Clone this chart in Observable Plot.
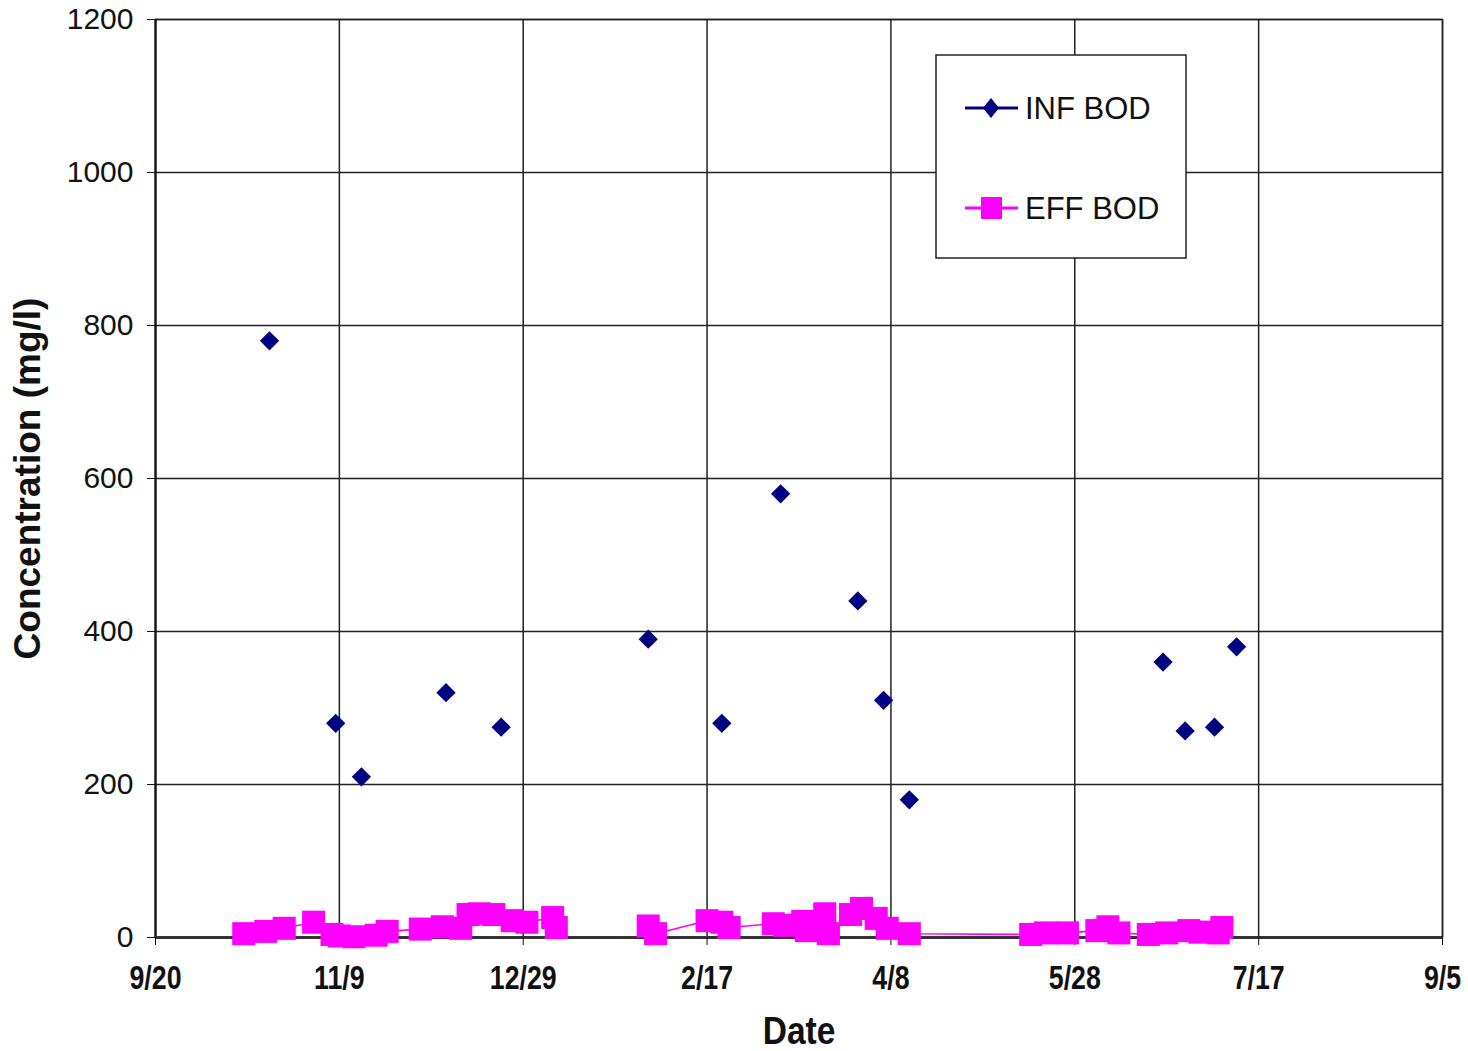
<!DOCTYPE html>
<html><head><meta charset="utf-8">
<script src="https://cdn.jsdelivr.net/npm/d3@7"></script>
<script src="https://cdn.jsdelivr.net/npm/@observablehq/plot@0.6"></script>
<style>
body{margin:0;background:#fff;}
#wrap{position:relative;width:1468px;height:1051px;}
#legend{position:absolute;left:0;top:0;}
</style></head><body>
<div id="wrap"></div>
<script>
// INF BOD (influent) samples
const infDates = ["2004-10-21","2004-11-08","2004-11-15","2004-12-08","2004-12-23","2005-02-01","2005-02-21","2005-03-09","2005-03-30","2005-04-06","2005-04-13","2005-06-21","2005-06-27","2005-07-05","2005-07-11"];
const infValues = [780,280,210,320,275,390,280,580,440,310,180,360,270,275,380];

// EFF BOD (effluent) samples; null = missing (breaks the line)
const effDates = ["2004-10-14","2004-10-20","2004-10-25","2004-11-02","2004-11-07","2004-11-09","2004-11-13","2004-11-19","2004-11-22","2004-12-01","2004-12-07","2004-12-12","2004-12-14","2004-12-17","2004-12-21","2004-12-26","2004-12-30","2005-01-06","2005-01-07","2005-01-20","2005-02-01","2005-02-03","2005-02-17","2005-02-21","2005-02-23","2005-03-07","2005-03-10","2005-03-15","2005-03-16","2005-03-21","2005-03-22","2005-03-28","2005-03-31","2005-04-04","2005-04-07","2005-04-13","2005-05-16","2005-05-20","2005-05-26","2005-06-03","2005-06-06","2005-06-09","2005-06-17","2005-06-22","2005-06-28","2005-07-01","2005-07-06","2005-07-07"];
const effValues = [5,8,12,20,4,2,1,3,8,11,14,12,30,31,30,22,20,26,13,null,15,5,22,20,13,18,16,21,9,31,5,30,38,25,12,5,4,6,6,9,14,6,4,6,9,7,6,13];

const xTickDates = ["2004-09-20","2004-11-09","2004-12-29","2005-02-17","2005-04-08","2005-05-28","2005-07-17","2005-09-05"];
const yTicks = [0,200,400,600,800,1000,1200];

const seriesNames = ["INF BOD","EFF BOD"];
const infColor = "#000080";
const effColor = "#ff00ff";

const inf = infDates.map((d,i)=>({date:new Date(d), value:infValues[i]}));
const eff = effDates.map((d,i)=>({date:new Date(d), value:effValues[i]}));
const xTicks = xTickDates.map(d=>new Date(d));

const sans = "'Liberation Sans',Arial,sans-serif";

const chart = Plot.plot({
  width:1468, height:1051,
  marginLeft:155, marginRight:26, marginTop:19, marginBottom:114,
  style:{fontFamily:sans, background:"#fff", color:"#111"},
  x:{type:"utc", domain:[xTicks[0], xTicks[xTicks.length-1]]},
  y:{domain:[0,1200]},
  marks:[
    Plot.gridX(xTicks, {stroke:"#222", strokeOpacity:1, strokeWidth:1.5}),
    Plot.gridY(yTicks, {stroke:"#222", strokeOpacity:1, strokeWidth:1.5}),
    Plot.frame({stroke:"#222", strokeWidth:1.5}),
    Plot.ruleX([xTicks[0]], {stroke:"#111", strokeWidth:2}),
    Plot.ruleY([0], {stroke:"#333", strokeWidth:3}),
    Plot.axisY(yTicks, {tickSize:8, tickPadding:14, fontSize:30, tickFormat:d=>String(d), label:null, stroke:"#111"}),
    Plot.axisY({ticks:[], tickSize:0, label:"Concentration (mg/l)", labelAnchor:"center", labelArrow:"none", labelOffset:142, fontSize:37, fontWeight:"bold"}),
    Plot.axisX(xTicks, {tickSize:8, tickPadding:20, tickFormat:d3.utcFormat("%-m/%-d"), fontSize:33, fontWeight:"bold", label:"Date", labelAnchor:"center", labelArrow:"none", labelOffset:106, stroke:"#111"}),
    Plot.line(eff, {x:"date", y:"value", stroke:effColor, strokeWidth:1.6}),
    Plot.dot(eff.filter(d=>d.value!=null), {x:"date", y:"value", symbol:"square", r:13, fill:effColor, stroke:"none"}),
    Plot.dot(inf, {x:"date", y:"value", symbol:"diamond2", r:8.7, fill:infColor, stroke:"none"})
  ]
});

// condense horizontal bold x-axis texts (the reference uses a narrow face)
function condense(sel, sx) {
  sel.each(function(){
    const t = d3.select(this);
    const tr = t.attr("transform");
    if (tr) {
      t.attr("transform", tr + ` scale(${sx},1)`);
    } else {
      const x = +t.attr("x") || 0, y = +t.attr("y") || 0;
      t.attr("x", null).attr("y", null).attr("transform", `translate(${x},${y}) scale(${sx},1)`);
    }
  });
}
const svg = d3.select(chart);
svg.selectAll('g[aria-label="x-axis label"] text').attr("font-size", 39);
condense(svg.selectAll('g[aria-label="x-axis tick label"] text'), 0.81);
condense(svg.selectAll('g[aria-label="x-axis label"] text'), 0.86);

const wrap = document.getElementById("wrap");
wrap.appendChild(chart);

// Legend overlay
const lg = d3.select(wrap).append("svg").attr("id","legend").attr("width",1468).attr("height",1051)
  .style("pointer-events","none").style("font-family", sans);
lg.append("rect").attr("x",936).attr("y",55).attr("width",250).attr("height",203)
  .attr("fill","#fff").attr("stroke","#222").attr("stroke-width",1.5);
const rows = [{name:seriesNames[0], color:infColor, y:108, sym:"diamond"},{name:seriesNames[1], color:effColor, y:208, sym:"square"}];
rows.forEach(r=>{
  lg.append("line").attr("x1",965).attr("x2",1018).attr("y1",r.y).attr("y2",r.y).attr("stroke",r.color).attr("stroke-width",3);
  if (r.sym==="diamond") {
    lg.append("path").attr("d",`M991,${r.y-10}L999,${r.y}L991,${r.y+10}L983,${r.y}Z`).attr("fill",r.color);
  } else {
    lg.append("rect").attr("x",981).attr("y",r.y-11).attr("width",21).attr("height",22).attr("fill",r.color);
  }
  lg.append("text").attr("x",1025).attr("y",r.y+11).attr("font-size",31).attr("fill","#111").text(r.name);
});
</script>
</body></html>
